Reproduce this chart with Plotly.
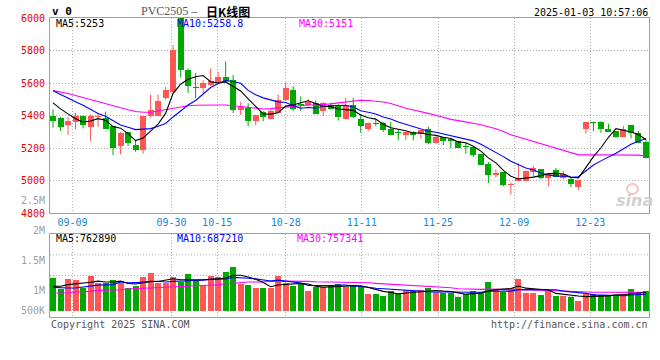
import plotly.graph_objects as go

# ---------------- data ----------------
dates = ["09-04","09-05","09-06","09-09","09-10","09-11","09-12","09-13","09-18","09-19",
         "09-20","09-23","09-24","09-25","09-26","09-27","09-30","10-08","10-09","10-10",
         "10-11","10-14","10-15","10-16","10-17","10-18","10-21","10-22","10-23","10-24",
         "10-25","10-28","10-29","10-30","10-31","11-01","11-04","11-05","11-06","11-07",
         "11-08","11-11","11-12","11-13","11-14","11-15","11-18","11-19","11-20","11-21",
         "11-22","11-25","11-26","11-27","11-28","11-29","12-02","12-03","12-04","12-05",
         "12-06","12-09","12-10","12-11","12-12","12-13","12-16","12-17","12-18","12-19",
         "12-20","12-23","12-24","12-25","12-26","12-27","12-30","12-31","01-02","01-03"]

opens  = [5400,5386,5341,5361,5396,5329,5392,5386,5333,5212,5298,5218,5186,5396,5400,5510,5545,6030,5682,5576,
          5570,5590,5602,5639,5620,5436,5446,5369,5420,5380,5416,5497,5559,5469,5467,5478,5427,5467,5463,5376,
          5463,5376,5314,5353,5355,5314,5296,5280,5300,5284,5320,5233,5267,5253,5243,5210,5206,5161,5100,5035,
          5053,4974,4998,4998,5055,5069,5018,5065,5014,5008,4962,5314,5357,5361,5320,5304,5267,5339,5294,5237]
highs  = [5437,5390,5392,5416,5400,5406,5412,5424,5336,5300,5300,5243,5398,5529,5529,5576,5831,6040,5690,5661,
          5618,5690,5670,5733,5649,5485,5476,5406,5427,5437,5529,5604,5580,5518,5502,5492,5484,5478,5471,5508,
          5508,5406,5355,5376,5361,5361,5314,5300,5304,5308,5331,5273,5267,5253,5243,5233,5206,5161,5114,5069,
          5053,4988,5104,5063,5090,5069,5043,5076,5059,5018,5002,5361,5361,5365,5349,5304,5335,5339,5304,5247]
lows   = [5325,5304,5280,5314,5320,5243,5330,5320,5157,5161,5212,5177,5165,5386,5396,5498,5533,5635,5539,5508,
          5537,5582,5598,5600,5415,5403,5333,5340,5365,5376,5414,5488,5427,5427,5457,5412,5396,5437,5369,5376,
          5386,5294,5304,5335,5300,5280,5247,5247,5247,5259,5223,5227,5218,5198,5200,5165,5145,5096,4984,5018,
          4964,4913,4998,4998,5024,5010,4964,5024,5010,4958,4941,5288,5304,5294,5300,5263,5267,5259,5233,5137]
closes = [5365,5329,5365,5400,5341,5396,5400,5320,5202,5292,5229,5186,5396,5431,5492,5559,5804,5678,5580,5572,
          5598,5610,5639,5614,5436,5455,5364,5405,5391,5426,5497,5570,5437,5465,5484,5412,5478,5437,5390,5463,
          5390,5335,5351,5349,5308,5280,5292,5300,5280,5308,5233,5267,5243,5243,5202,5206,5157,5096,5035,5049,
          4972,4978,5014,5059,5080,5018,5039,5024,5039,4978,5002,5361,5353,5314,5300,5267,5320,5294,5233,5141]
volumes = [1378000,921000,1343000,1292000,970000,1468000,1160000,1160000,1285000,1175000,
           949000,1062000,1415000,1589000,1160000,1160000,1415000,1190000,1547000,1268000,
           1104000,1468000,1408000,1645000,1842000,1125000,1076000,956000,956000,956000,
           1470000,1155000,1055000,1125000,830000,985000,985000,1083000,1125000,985000,
           1083000,985000,703000,689000,619000,844000,703000,872000,830000,872000,
           970000,731000,731000,731000,591000,703000,844000,802000,1224000,872000,
           802000,970000,1350000,760000,760000,661000,830000,633000,633000,591000,
           422000,689000,689000,661000,661000,661000,689000,914000,731000,844000]

ma5_head  = [5478,5441,5410,5380]
ma10_head = [5553,5529,5504,5484,5463,5437,5412,5395,5369]
ma30_head = [5553,5545,5535,5523,5510,5497,5485,5472,5460,5448,5435,5425,5420,5420,5428,
             5440,5447,5455,5460,5463,5465,5465,5465,5465,5458,5455,5450,5445,5440]
vma5_head  = [1027000,1030000,1100000,1125000]
vma10_head = [985000,960000,955000,960000,1000000,1060000,1080000,1090000,1100000]
vma30_head = [745000,745000,760000,788000,788000,816000,858000,858000,872000,886000,
              914000,928000,956000,956000,985000,985000,999000,1027000,1027000,1055000,
              1069000,1097000,1097000,1139000,1167000,1196000,1210000,1210000,1210000]

tick_dates = ["09-09","09-30","10-15","10-28","11-11","11-25","12-09","12-23"]
price_ticks = [4800,5000,5200,5400,5600,5800,6000]

title_code = "PVC2505 –"
title_cn = "日K线图"
timestamp = "2025-01-03 10:57:06"
ma_price_labels = ["MA5:5253","MA10:5258.8","MA30:5151"]
ma_vol_labels = ["MA5:762890","MA10:687210","MA30:757341"]
vol_axis_labels = ["2M","1.5M","1M","500K"]

# ---------------- helpers ----------------
def moving(vals, n, head):
    out = []
    for i in range(len(vals)):
        if i < n - 1:
            out.append(head[i])
        else:
            out.append(sum(vals[i - n + 1:i + 1]) / n)
    return out

N = len(dates)
idx = list(range(N))
RED = "#ff5656"
GREEN = "#00a800"
up = [c >= o for o, c in zip(opens, closes)]

L, R, T, B = 50, 11, 18, 43
W, H = 660 - L - R, 360 - T - B
def ax(px):
    return (px - L) / W
def ay(py):
    return (360 - B - py) / H

MONO = "DejaVu Sans Mono"
fig = go.Figure()

# wicks
for flag, col in [(True, RED), (False, GREEN)]:
    xs, ys = [], []
    for i in idx:
        if up[i] == flag:
            xs += [i, i, None]
            ys += [lows[i], highs[i], None]
    fig.add_trace(go.Scatter(x=xs, y=ys, mode="lines", line=dict(color=col, width=1),
                             hoverinfo="skip", xaxis="x", yaxis="y"))
# bodies
for flag, col in [(True, RED), (False, GREEN)]:
    xs = [i for i in idx if up[i] == flag]
    base = [min(opens[i], closes[i]) for i in xs]
    hgt = [max(abs(closes[i] - opens[i]), 6) for i in xs]
    fig.add_trace(go.Bar(x=xs, y=hgt, base=base, width=0.8, marker=dict(color=col, line=dict(width=0)),
                         hoverinfo="skip", xaxis="x", yaxis="y"))

# price MAs
for vals, col in [(moving(closes, 30, ma30_head), "#ff00ff"),
                  (moving(closes, 10, ma10_head), "#0000ff"),
                  (moving(closes, 5, ma5_head), "#000000")]:
    fig.add_trace(go.Scatter(x=idx, y=vals, mode="lines", line=dict(color=col, width=1.1),
                             hoverinfo="skip", xaxis="x", yaxis="y"))

# volume bars
for flag, col in [(True, RED), (False, GREEN)]:
    xs = [i for i in idx if up[i] == flag]
    fig.add_trace(go.Bar(x=xs, y=[volumes[i] for i in xs], width=0.8,
                         marker=dict(color=col, line=dict(width=0)),
                         hoverinfo="skip", xaxis="x2", yaxis="y2"))
for vals, col in [(moving(volumes, 30, vma30_head), "#ff00ff"),
                  (moving(volumes, 10, vma10_head), "#0000ff"),
                  (moving(volumes, 5, vma5_head), "#000000")]:
    fig.add_trace(go.Scatter(x=idx, y=vals, mode="lines", line=dict(color=col, width=1.1),
                             hoverinfo="skip", xaxis="x2", yaxis="y2"))

tick_idx = [dates.index(d) for d in tick_dates]
tick_pos = [i + (i - 31) * 0.0145 for i in tick_idx]

GRID = "#b0b0b0"
BORDER = "#a0a0a0"
DOT = "1px,2px"
xcommon = dict(range=[-0.4, 79.4], tickvals=tick_pos, showgrid=True, gridcolor=GRID, griddash=DOT,
               gridwidth=1, zeroline=False, showline=True, mirror=True, linecolor=BORDER,
               linewidth=1, ticks="", fixedrange=True)

fig.update_layout(
    width=660, height=360,
    margin=dict(l=L, r=R, t=T, b=B),
    paper_bgcolor="white", plot_bgcolor="white",
    showlegend=False, barmode="overlay", bargap=0,
    xaxis=dict(**xcommon, ticktext=tick_dates, anchor="y",
               tickfont=dict(family=MONO, size=10, color="#1a86d6")),
    xaxis2=dict(**xcommon, showticklabels=False, anchor="y2", matches="x"),
    yaxis=dict(domain=[ay(213), 1], range=[4800, 6000], tickvals=price_ticks,
               tickfont=dict(family=MONO, size=10, color="#e60000"),
               showgrid=True, gridcolor=GRID, griddash=DOT, zeroline=False,
               showline=True, mirror=True, linecolor=BORDER, linewidth=1, ticks="",
               ticklabelstandoff=2, fixedrange=True),
    yaxis2=dict(domain=[0, ay(234)], range=[-266000, 3236000], showticklabels=False,
                showgrid=False, zeroline=False, showline=True, mirror=True,
                linecolor=BORDER, linewidth=1, ticks="", fixedrange=True),
)

# volume quarter gridlines
for f in [0.25, 0.5, 0.75]:
    fig.add_shape(type="line", xref="x2 domain", yref="y2 domain", x0=0, x1=1, y0=f, y1=f,
                  line=dict(color=GRID, width=1, dash=DOT), layer="below")

# watermark
fig.add_shape(type="circle", xref="paper", yref="paper", x0=ax(627), x1=ax(638), y0=ay(194), y1=ay(184),
              line=dict(color="#f2c4c4", width=2), layer="below")

ann = []
def txt(s, px, py, color, size=10, xanchor="left", family=MONO, **kw):
    ann.append(dict(text=s, x=ax(px), y=ay(py), xref="paper", yref="paper", showarrow=False,
                    xanchor=xanchor, yanchor="middle", font=dict(family=family, size=size, color=color), **kw))

txt("<b>v 0</b>", 50, 11, "#000000", size=11)
txt(title_code, 200, 11, "#555555", size=12, xanchor="right", family="Liberation Serif")
txt("<b>" + title_cn + "</b>", 204, 11, "#000000", size=12, family="Noto Sans CJK SC")
txt(timestamp, 650, 12, "#000000", xanchor="right")
for s, px, col in zip(ma_price_labels, [54, 175, 297], ["#000000", "#0000ff", "#ff00ff"]):
    txt(s, px, 24, col)
for s, px, col in zip(ma_vol_labels, [54, 175, 295], ["#000000", "#0000ff", "#ff00ff"]):
    txt(s, px, 238.5, col)
for s, py in zip(vol_axis_labels, [230.5, 260.5, 290.5, 310.5]):
    txt(s, 47, py, "#a0a0a0", xanchor="right")
txt("2.5M", 47, 200, "#a0a0a0", xanchor="right")
txt("Copyright 2025 SINA.COM", 49, 324, "#555555")
txt("http://finance.sina.com.cn", 650, 324.5, "#555555", xanchor="right")
ann.append(dict(text="<b><i>sina</i></b>", x=ax(634), y=ay(200), xref="paper", yref="paper",
                showarrow=False, xanchor="center", yanchor="middle",
                font=dict(family="DejaVu Sans", size=16, color="#d0d0d0")))
fig.update_layout(annotations=ann)

fig.write_html("out.html", config={"displayModeBar": False, "staticPlot": True},
               post_script="document.body.style.margin='0';document.body.style.overflow='hidden';")
